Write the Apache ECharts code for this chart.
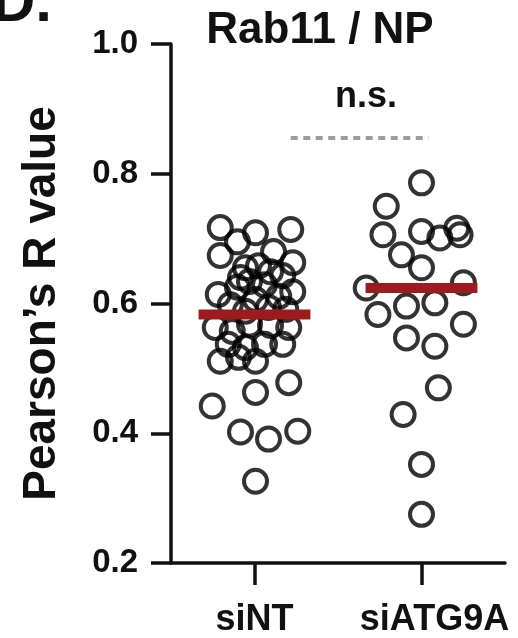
<!DOCTYPE html>
<html>
<head>
<meta charset="utf-8">
<script src="https://cdn.jsdelivr.net/npm/echarts@6/dist/echarts.min.js"></script>
<style>
  html, body { margin: 0; padding: 0; background: #fff; }
  #main { width: 518px; height: 638px; }
</style>
</head>
<body>
<div id="main"></div>
<script>
// groups on the x axis
var categories = ['siNT', 'siATG9A'];
var yTicks = [0.2, 0.4, 0.6, 0.8, 1.0];

// Pearson's R per cell
var siNTValues = [0.717, 0.709, 0.714, 0.695, 0.674, 0.680, 0.663, 0.655, 0.658, 0.649,
  0.643, 0.634, 0.629, 0.640, 0.614, 0.625, 0.618, 0.611, 0.606, 0.598,
  0.594, 0.591, 0.588, 0.563, 0.557, 0.563, 0.566, 0.568, 0.537, 0.532,
  0.537, 0.537, 0.517, 0.511, 0.511, 0.478, 0.463, 0.442, 0.402, 0.391,
  0.403, 0.326];
// horizontal scatter of each dot inside its column (axis units)
var siNTJitter = [-0.205, 0.006, 0.217, -0.102, -0.205, 0.114, 0.229, -0.054, 0.024, 0.096,
  0.169, -0.030, 0.060, -0.084, -0.217, -0.102, 0.229, 0.145, 0.006, -0.145,
  0.084, 0.187, -0.054, -0.235, -0.133, 0.205, 0.096, -0.030, -0.157, -0.054,
  0.060, 0.169, -0.096, 0.006, -0.205, 0.205, 0.006, -0.253, -0.084, 0.084,
  0.259, 0.006];

var siATG9AValues = [0.786, 0.750, 0.706, 0.711, 0.701, 0.716, 0.706, 0.675, 0.655, 0.624,
  0.632, 0.583, 0.596, 0.601, 0.568, 0.547, 0.534, 0.470, 0.429, 0.352, 0.275];
var siATG9AJitter = [0.0, -0.211, -0.231, 0.0, 0.110, 0.211, 0.231, -0.120, 0.0, -0.331,
  0.251, -0.261, -0.090, 0.080, 0.251, -0.090, 0.080, 0.101, -0.110, 0.0, 0.0];

// red bar per group
var centerLines = [0.583, 0.624];

// significance bracket
var sigLabel = 'n.s.';
var sigLevel = 0.855;
var sigFrom = 1.217;
var sigTo = 2.042;

var FONT = '"Liberation Sans", Arial, sans-serif';

function toPoints(values, jitter, pos) {
    return values.map(function (v, i) { return [pos + jitter[i], v]; });
}

var groups = [
    toPoints(siNTValues, siNTJitter, 1),
    toPoints(siATG9AValues, siATG9AJitter, 2)
];

var series = [];
groups.forEach(function (pts) {
    series.push({
        type: 'scatter',
        xAxisIndex: 1,
        data: pts,
        symbol: 'circle',
        symbolSize: 23,
        itemStyle: { color: 'rgba(0,0,0,0)', borderColor: '#000', borderWidth: 4 },
        emphasis: { disabled: true },
        z: 3
    });
});
centerLines.forEach(function (m, gi) {
    var pos = gi + 1;
    series.push({
        type: 'line',
        xAxisIndex: 1,
        data: [[pos - 0.335, m], [pos + 0.335, m]],
        symbol: 'none',
        lineStyle: { color: '#9e1a1c', width: 10, cap: 'butt' },
        silent: true,
        z: 5
    });
});
series.push({
    type: 'line',
    xAxisIndex: 1,
    data: [[sigFrom, sigLevel], [sigTo, sigLevel]],
    symbol: 'none',
    lineStyle: { color: '#9c9c9c', width: 4, type: [7, 5.5] },
    silent: true
});

var chart = echarts.init(document.getElementById('main'));
chart.setOption({
    animation: false,
    backgroundColor: '#fff',
    grid: { left: 171, right: 13, top: 44, bottom: 74, containLabel: false },
    xAxis: [{
        type: 'category',
        data: categories,
        boundaryGap: true,
        axisLine: { lineStyle: { color: '#111', width: 3.5 } },
        axisTick: { show: true, interval: 0, alignWithLabel: true, length: 22, lineStyle: { color: '#111', width: 3.5 } },
        axisLabel: {
            interval: 0, hideOverlap: false, margin: 39, color: '#111', fontSize: 36, fontWeight: 'bold', fontFamily: FONT,
            formatter: function (v, i) { return i === 1 ? '{b|' + v + '}' : v; },
            rich: { b: { padding: [0, 0, 0, 26], fontSize: 36, fontWeight: 'bold', fontFamily: FONT, color: '#111' } }
        },
        splitLine: { show: false }
    }, {
        type: 'value',
        min: 0.5,
        max: 2.5,
        show: false,
        splitLine: { show: false }
    }],
    yAxis: {
        type: 'value',
        min: yTicks[0],
        max: yTicks[yTicks.length - 1],
        interval: 0.2,
        name: "Pearson\u2019s R value",
        nameLocation: 'middle',
        nameGap: 106,
        nameTextStyle: { color: '#111', fontSize: 46, fontWeight: 'bold', fontFamily: FONT },
        axisLine: { show: true, lineStyle: { color: '#111', width: 3.5 } },
        axisTick: { show: true, length: 20, lineStyle: { color: '#111', width: 3.5 } },
        axisLabel: {
            margin: 33, color: '#111', fontSize: 33, fontWeight: 'bold', fontFamily: FONT,
            formatter: function (v) { return v.toFixed(1); }
        },
        splitLine: { show: false }
    },
    graphic: [{
        type: 'text', left: -8, top: -26,
        style: { text: 'D.', fill: '#111', font: 'bold 60px ' + FONT }
    }, {
        type: 'text', x: 320, y: 31,
        style: { text: 'Rab11 / NP', fill: '#111', font: 'bold 44px ' + FONT, align: 'center', verticalAlign: 'middle' }
    }, {
        type: 'text', x: 366, y: 97,
        style: { text: sigLabel, fill: '#111', font: 'bold 36px ' + FONT, align: 'center', verticalAlign: 'middle' }
    }],
    series: series
});
</script>
</body>
</html>
